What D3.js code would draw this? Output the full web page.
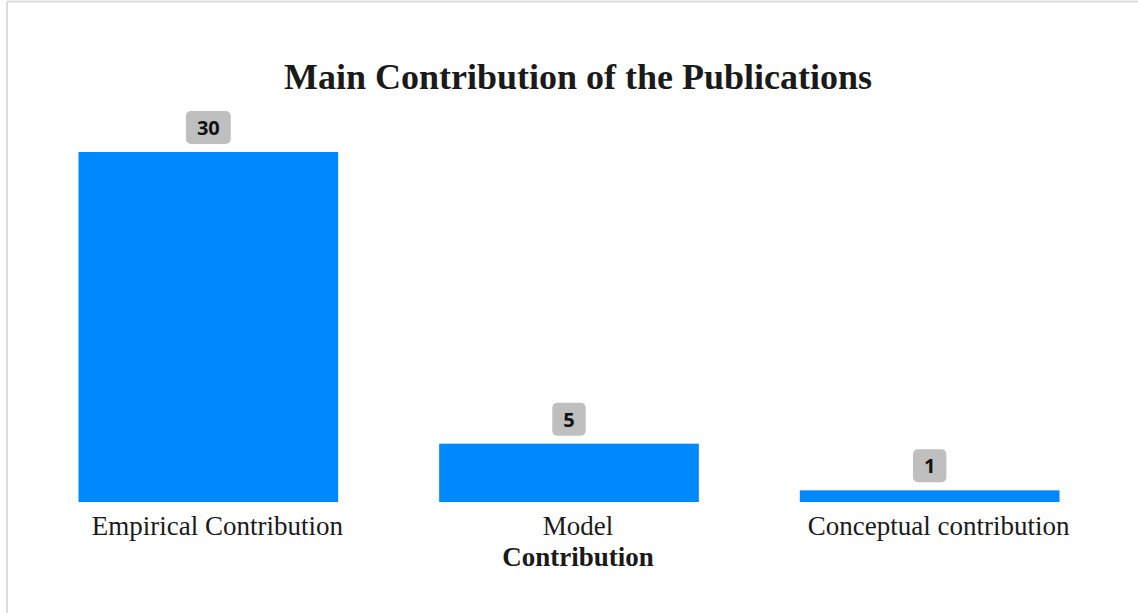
<!DOCTYPE html>
<html>
<head>
<meta charset="utf-8">
<script src="https://cdn.jsdelivr.net/npm/d3@7"></script>
<style>
  html, body { margin: 0; padding: 0; background: #fff; }
  svg { display: block; }
</style>
</head>
<body>
<svg id="chart" width="1138" height="613"></svg>
<script>
// Publication counts by type of main contribution
const categories = ["Empirical Contribution", "Model Contribution", "Conceptual contribution"];
const values = [30, 5, 1];
const title = "Main Contribution of the Publications";

const W = 1138, H = 613;
const svg = d3.select("#chart");

// light frame along the top and left edges
svg.append("line").attr("x1", 7).attr("x2", W).attr("y1", 1.5).attr("y2", 1.5)
  .attr("stroke", "#dcdcdc").attr("stroke-width", 2);
svg.append("line").attr("x1", 7).attr("x2", 7).attr("y1", 1).attr("y2", H)
  .attr("stroke", "#dcdcdc").attr("stroke-width", 2);

const baseY = 502;
const x = d3.scaleBand().domain(categories).range([28, 1110])
  .paddingInner(0.28).paddingOuter(0.14);
const y = d3.scaleLinear().domain([0, 30]).range([baseY, 152]);

const textShift = 9;

svg.append("text")
  .attr("x", 578).attr("y", 89)
  .attr("text-anchor", "middle")
  .attr("font-family", "'Liberation Serif', 'Times New Roman', serif")
  .attr("font-weight", "bold").attr("font-size", 36)
  .attr("fill", "#1a1a1a")
  .text(title);

const g = svg.append("g");

g.selectAll("rect.bar").data(categories).join("rect")
  .attr("class", "bar")
  .attr("x", d => x(d))
  .attr("width", x.bandwidth())
  .attr("y", (d, i) => y(values[i]))
  .attr("height", (d, i) => baseY - y(values[i]))
  .attr("fill", "#0088fe");

// value badges above the bars
const badges = g.selectAll("g.badge").data(categories).join("g").attr("class", "badge");
badges.each(function(d, i) {
  const gb = d3.select(this);
  const cx = x(d) + x.bandwidth() / 2;
  const t = gb.append("text")
    .attr("x", cx).attr("y", y(values[i]) - 17)
    .attr("text-anchor", "middle")
    .attr("font-family", "'Open Sans', 'Noto Sans', sans-serif")
    .attr("font-weight", "bold").attr("font-size", 20)
    .attr("fill", "#111")
    .text(values[i]);
  const bb = t.node().getBBox();
  const bw = Math.max(33, bb.width + 22), bh = 33;
  gb.insert("rect", "text")
    .attr("x", cx - bw / 2).attr("y", y(values[i]) - 8 - bh)
    .attr("width", bw).attr("height", bh)
    .attr("rx", 5).attr("ry", 5)
    .attr("fill", "#bfbfbf");
});

// category labels; the middle one wraps with a bold second line
const labelFont = "'Liberation Serif', 'Times New Roman', serif";
const labelSize = 27;
categories.forEach((d, i) => {
  const cx = x(d) + x.bandwidth() / 2 + textShift;
  if (i === 1) {
    const parts = d.split(" ");
    svg.append("text").attr("x", cx).attr("y", 535)
      .attr("text-anchor", "middle").attr("font-family", labelFont)
      .attr("font-size", labelSize).attr("fill", "#1a1a1a").text(parts[0]);
    svg.append("text").attr("x", cx).attr("y", 566)
      .attr("text-anchor", "middle").attr("font-family", labelFont)
      .attr("font-weight", "bold")
      .attr("font-size", labelSize).attr("fill", "#1a1a1a").text(parts[1]);
  } else {
    svg.append("text").attr("x", cx).attr("y", 535)
      .attr("text-anchor", "middle").attr("font-family", labelFont)
      .attr("font-size", labelSize).attr("fill", "#1a1a1a").text(d);
  }
});
</script>
</body>
</html>
